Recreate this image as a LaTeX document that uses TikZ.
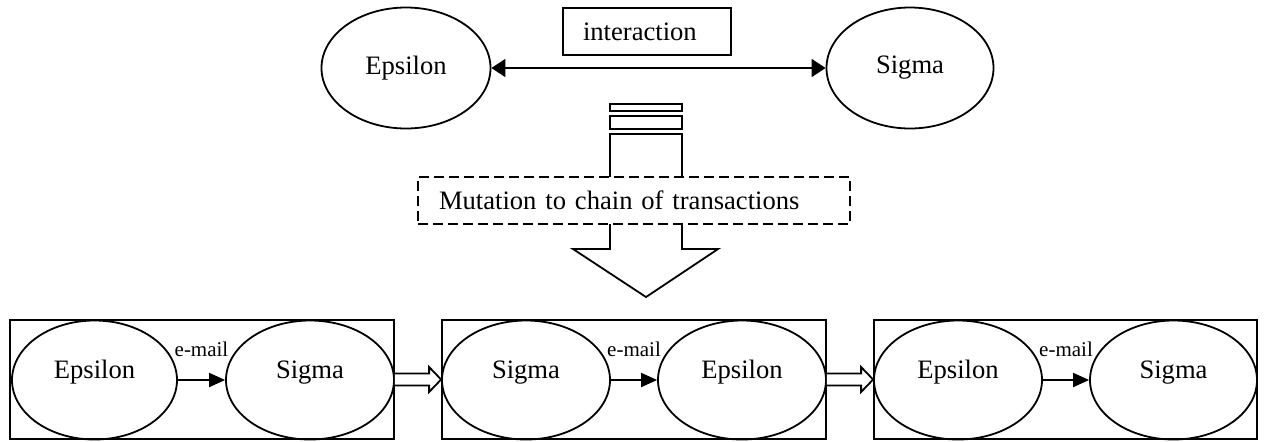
\documentclass[tikz,border=0pt]{standalone}
\usepackage{fontspec}
\setmainfont{Liberation Serif}
\usetikzlibrary{arrows.meta,calc,shapes.geometric}
\begin{document}
\begin{tikzpicture}[x=0.5pt,y=-0.5pt, line width=0.9pt,
  every node/.style={font=\fontsize{13.3}{16}\selectfont},
  ell/.style={draw, ellipse, inner sep=0pt, minimum height=59.5pt},
  low/.style={text height=8pt, text depth=10pt},
  frame/.style={draw, rectangle, inner sep=0pt},
  lbl/.style={font=\fontsize{10.5}{12}\selectfont, inner sep=0pt},
  dbl/.style={{Triangle[length=7pt,width=9pt]}-{Triangle[length=7pt,width=9pt]}},
  mailarrow/.style={-{Triangle[length=8pt,width=7pt]}},
  hollow/.style={draw, fill=white, line join=miter}]
\useasboundingbox (0,0) rectangle (1265,441);

% top row
\node[ell, minimum width=84.5pt, minimum height=60.5pt] (E0) at (406,68) {Epsilon};
\node[ell, minimum width=83.5pt, minimum height=60.5pt] (S0) at (910,68) {Sigma\hspace{6pt}};
\draw[dbl] (E0.east) -- (S0.west);
\node[frame, minimum width=84pt, minimum height=23.5pt, text width=64pt, align=left, inner xsep=10pt] (I) at (647,31.5) {interaction};

% big block arrow
\draw (610,104) rectangle (682,111);
\draw (610,116) rectangle (682,129);
\node[frame, dashed, dash pattern=on 5pt off 2.5pt, minimum width=216pt, minimum height=23.5pt, text width=195pt, align=left, inner xsep=10.5pt] (M) at (634,200.5) {Mutation to chain of transactions};
\draw (610,177) -- (610,134) -- (682,134) -- (682,177);
\draw[line join=miter] (610,224) -- (610,249) -- (573,249) -- (646,297) -- (718,249) -- (682,249) -- (682,224);

% bottom boxes
\node[frame, minimum width=192pt, minimum height=59.5pt] (B1) at (202,379.5) {};
\node[frame, minimum width=192pt, minimum height=59.5pt] (B2) at (634,379.5) {};
\node[frame, minimum width=191.5pt, minimum height=59.5pt] (B3) at (1065.5,379.5) {};

\node[ell, low, minimum width=82.5pt] (E1) at (94.5,380) {Epsilon\hspace{4pt}};
\node[ell, low, minimum width=84pt] (S1) at (310,380) {Sigma\hspace{6pt}};
\node[ell, low, minimum width=84pt] (S2) at (526,380) {Sigma\hspace{6pt}};
\node[ell, low, minimum width=84pt] (E2) at (742,380) {Epsilon};
\node[ell, low, minimum width=84pt] (E3) at (958,380) {Epsilon};
\node[ell, low, minimum width=83.5pt] (S3) at (1173.5,380) {Sigma\hspace{4pt}};

\draw[mailarrow] (E1.east) -- node[lbl, above=11pt] {e-mail} (S1.west);
\draw[mailarrow] (S2.east) -- node[lbl, above=11pt] {e-mail} (E2.west);
\draw[mailarrow] (E3.east) -- node[lbl, above=11pt] {e-mail} (S3.west);

\draw[hollow] ($(B1.east)+(0,-6)$) -- ($(B2.west)+(-12,-6)$) -- ($(B2.west)+(-12,-12.5)$) -- (B2.west) -- ($(B2.west)+(-12,12.5)$) -- ($(B2.west)+(-12,6)$) -- ($(B1.east)+(0,6)$);
\draw[hollow] ($(B2.east)+(0,-6)$) -- ($(B3.west)+(-12,-6)$) -- ($(B3.west)+(-12,-12.5)$) -- (B3.west) -- ($(B3.west)+(-12,12.5)$) -- ($(B3.west)+(-12,6)$) -- ($(B2.east)+(0,6)$);
\end{tikzpicture}
\end{document}
